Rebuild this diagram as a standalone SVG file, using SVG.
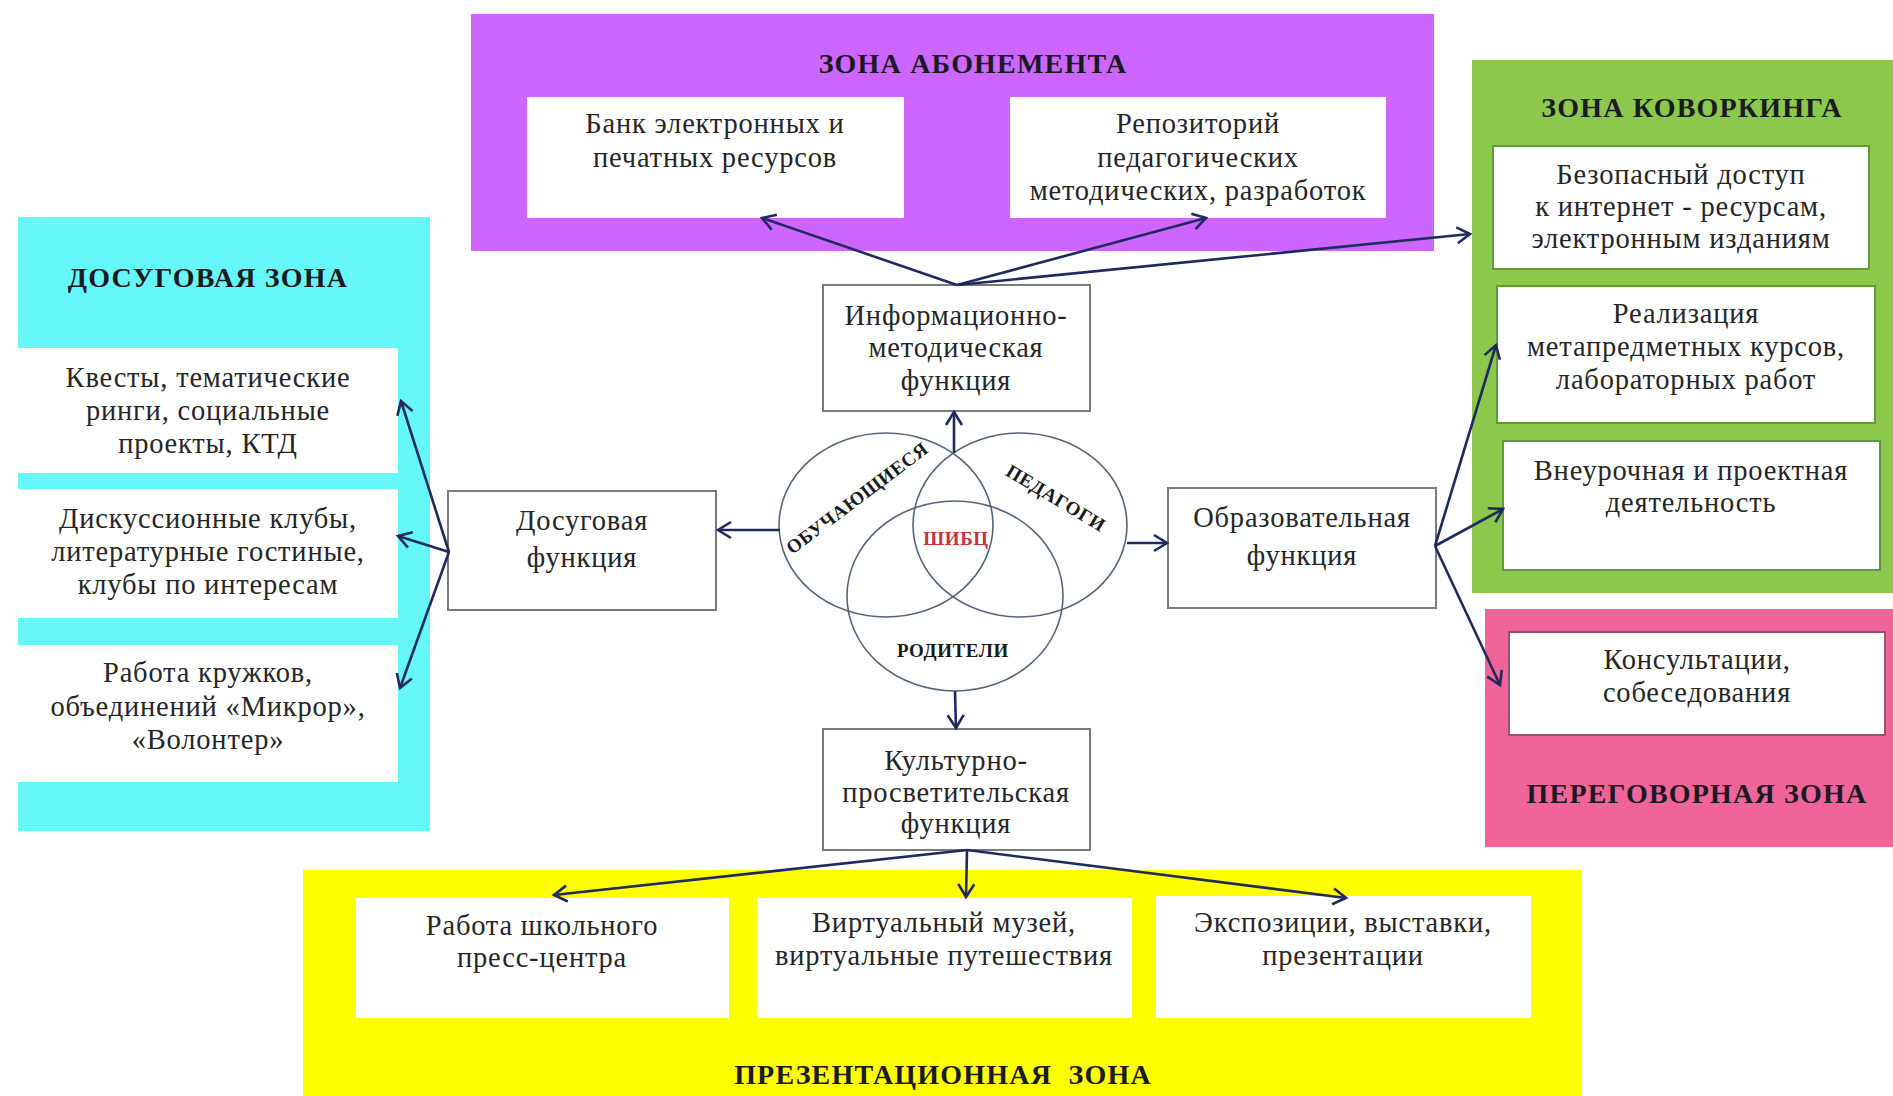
<svg xmlns="http://www.w3.org/2000/svg" width="1893" height="1096" viewBox="0 0 1893 1096">
<style>
text{font-family:"Liberation Serif","Times New Roman",serif;fill:#262626;text-anchor:middle;dominant-baseline:central}
.t{font-size:28.5px;letter-spacing:0.8px}
.h{font-size:28px;font-weight:bold;fill:#1a1a22;letter-spacing:1.2px}
.v{font-size:19px;font-weight:bold;fill:#1a1a1a;letter-spacing:0.6px}
.ib{fill:#ffffff;stroke:none}
.gb{fill:#ffffff;stroke:#5f9a3c;stroke-width:2}
.fb{fill:#ffffff;stroke:#7a7a7a;stroke-width:2}
.c{fill:none;stroke:#55657a;stroke-width:1.6}
.a{fill:none;stroke:#1f2b5e;stroke-width:2.6;marker-end:url(#ah)}
</style>
<defs>
<marker id="ah" markerUnits="userSpaceOnUse" markerWidth="20" markerHeight="20" refX="15" refY="9" orient="auto" viewBox="0 0 20 18">
<path d="M2,1 L15,9 L2,17" fill="none" stroke="#1f2b5e" stroke-width="2.6"/>
</marker>
</defs>
<rect width="1893" height="1096" fill="#ffffff"/>

<g id="zone-abonement">
<rect x="471" y="14" width="963" height="237" fill="#cc66ff"/>
<text class="h" x="973" y="63">ЗОНА АБОНЕМЕНТА</text>
</g>
<g id="bank">
<rect class="ib" x="527" y="97" width="377" height="121"/>
<text class="t" x="715" y="123">Банк электронных и</text>
<text class="t" x="715" y="157">печатных ресурсов</text>
</g>
<g id="repo">
<rect class="ib" x="1010" y="97" width="376" height="121"/>
<text class="t" x="1198" y="123">Репозиторий</text>
<text class="t" x="1198" y="157">педагогических</text>
<text class="t" x="1198" y="190">методических, разработок</text>
</g>

<g id="zone-coworking">
<rect x="1472" y="60" width="421" height="533" fill="#8cc84b"/>
<text class="h" x="1692" y="107">ЗОНА КОВОРКИНГА</text>
</g>
<g id="access">
<rect class="gb" x="1493" y="146" width="376" height="123"/>
<text class="t" x="1681" y="174">Безопасный доступ</text>
<text class="t" x="1681" y="206">к интернет - ресурсам,</text>
<text class="t" x="1681" y="238">электронным изданиям</text>
</g>
<g id="courses">
<rect class="gb" x="1497" y="286" width="378" height="137"/>
<text class="t" x="1686" y="313">Реализация</text>
<text class="t" x="1686" y="346">метапредметных курсов,</text>
<text class="t" x="1686" y="379">лабораторных работ</text>
</g>
<g id="projects">
<rect class="gb" x="1503" y="441" width="377" height="129"/>
<text class="t" x="1691" y="470">Внеурочная и проектная</text>
<text class="t" x="1691" y="502">деятельность</text>
</g>

<g id="zone-negotiation">
<rect x="1485" y="609" width="408" height="238" fill="#f0649a"/>
<text class="h" x="1697" y="793">ПЕРЕГОВОРНАЯ ЗОНА</text>
</g>
<g id="consult">
<rect class="fb" x="1509" y="632" width="376" height="103" style="stroke:#8a5a6a"/>
<text class="t" x="1697" y="659">Консультации,</text>
<text class="t" x="1697" y="692">собеседования</text>
</g>

<g id="zone-leisure">
<rect x="18" y="217" width="412" height="614" fill="#66f8f8"/>
<text class="h" x="208" y="277">ДОСУГОВАЯ ЗОНА</text>
</g>
<g id="quests">
<rect class="ib" x="18" y="348" width="380" height="125"/>
<text class="t" x="208" y="377">Квесты, тематические</text>
<text class="t" x="208" y="410">ринги, социальные</text>
<text class="t" x="208" y="443">проекты, КТД</text>
</g>
<g id="clubs">
<rect class="ib" x="18" y="489" width="380" height="129"/>
<text class="t" x="208" y="518">Дискуссионные клубы,</text>
<text class="t" x="208" y="551">литературные гостиные,</text>
<text class="t" x="208" y="584">клубы по интересам</text>
</g>
<g id="circles-work">
<rect class="ib" x="18" y="645" width="380" height="137"/>
<text class="t" x="208" y="672">Работа кружков,</text>
<text class="t" x="208" y="706">объединений «Микрор»,</text>
<text class="t" x="208" y="739">«Волонтер»</text>
</g>

<g id="zone-presentation">
<rect x="303" y="870" width="1279" height="226" fill="#ffff00"/>
<text class="h" x="943" y="1074" xml:space="preserve">ПРЕЗЕНТАЦИОННАЯ  ЗОНА</text>
</g>
<g id="press">
<rect class="ib" x="356" y="898" width="373" height="120"/>
<text class="t" x="542" y="925">Работа школьного</text>
<text class="t" x="542" y="957">пресс-центра</text>
</g>
<g id="museum">
<rect class="ib" x="757" y="898" width="375" height="120"/>
<text class="t" x="944" y="922">Виртуальный музей,</text>
<text class="t" x="944" y="955">виртуальные путешествия</text>
</g>
<g id="expo">
<rect class="ib" x="1156" y="896" width="375" height="122"/>
<text class="t" x="1343" y="922">Экспозиции, выставки,</text>
<text class="t" x="1343" y="955">презентации</text>
</g>

<g id="f-info">
<rect class="fb" x="823" y="285" width="267" height="126"/>
<text class="t" x="956" y="315">Информационно-</text>
<text class="t" x="956" y="347">методическая</text>
<text class="t" x="956" y="380">функция</text>
</g>
<g id="f-leisure">
<rect class="fb" x="448" y="491" width="268" height="119"/>
<text class="t" x="582" y="520">Досуговая</text>
<text class="t" x="582" y="557">функция</text>
</g>
<g id="f-edu">
<rect class="fb" x="1168" y="488" width="268" height="120"/>
<text class="t" x="1302" y="517">Образовательная</text>
<text class="t" x="1302" y="555">функция</text>
</g>
<g id="f-culture">
<rect class="fb" x="823" y="729" width="267" height="121"/>
<text class="t" x="956" y="760">Культурно-</text>
<text class="t" x="956" y="792">просветительская</text>
<text class="t" x="956" y="823">функция</text>
</g>

<g id="venn">
<ellipse class="c" cx="886" cy="525" rx="107" ry="92"/>
<ellipse class="c" cx="1020" cy="525" rx="107" ry="92"/>
<ellipse class="c" cx="955" cy="596" rx="108" ry="95"/>
<text class="v" transform="translate(857,498) rotate(-37)">ОБУЧАЮЩИЕСЯ</text>
<text class="v" transform="translate(1056,498) rotate(31)">ПЕДАГОГИ</text>
<text class="v" x="956" y="538" style="fill:#c8323c">ШИБЦ</text>
<text class="v" x="953" y="650">РОДИТЕЛИ</text>
</g>

<g id="connectors">
<line class="a" x1="957" y1="285" x2="762" y2="218"/>
<line class="a" x1="957" y1="285" x2="1206" y2="218"/>
<line class="a" x1="957" y1="285" x2="1470" y2="234"/>
<line class="a" x1="954" y1="453" x2="954" y2="412"/>
<line class="a" x1="780" y1="530" x2="718" y2="530"/>
<line class="a" x1="1127" y1="543" x2="1167" y2="543"/>
<line class="a" x1="955" y1="691" x2="956" y2="728"/>
<line class="a" x1="449" y1="552" x2="401" y2="401"/>
<line class="a" x1="449" y1="552" x2="398" y2="536"/>
<line class="a" x1="449" y1="552" x2="400" y2="688"/>
<line class="a" x1="1435" y1="546" x2="1496" y2="345"/>
<line class="a" x1="1435" y1="546" x2="1503" y2="509"/>
<line class="a" x1="1435" y1="546" x2="1500" y2="685"/>
<line class="a" x1="967" y1="850" x2="554" y2="895"/>
<line class="a" x1="967" y1="850" x2="966" y2="897"/>
<line class="a" x1="967" y1="850" x2="1346" y2="898"/>
</g>
</svg>
